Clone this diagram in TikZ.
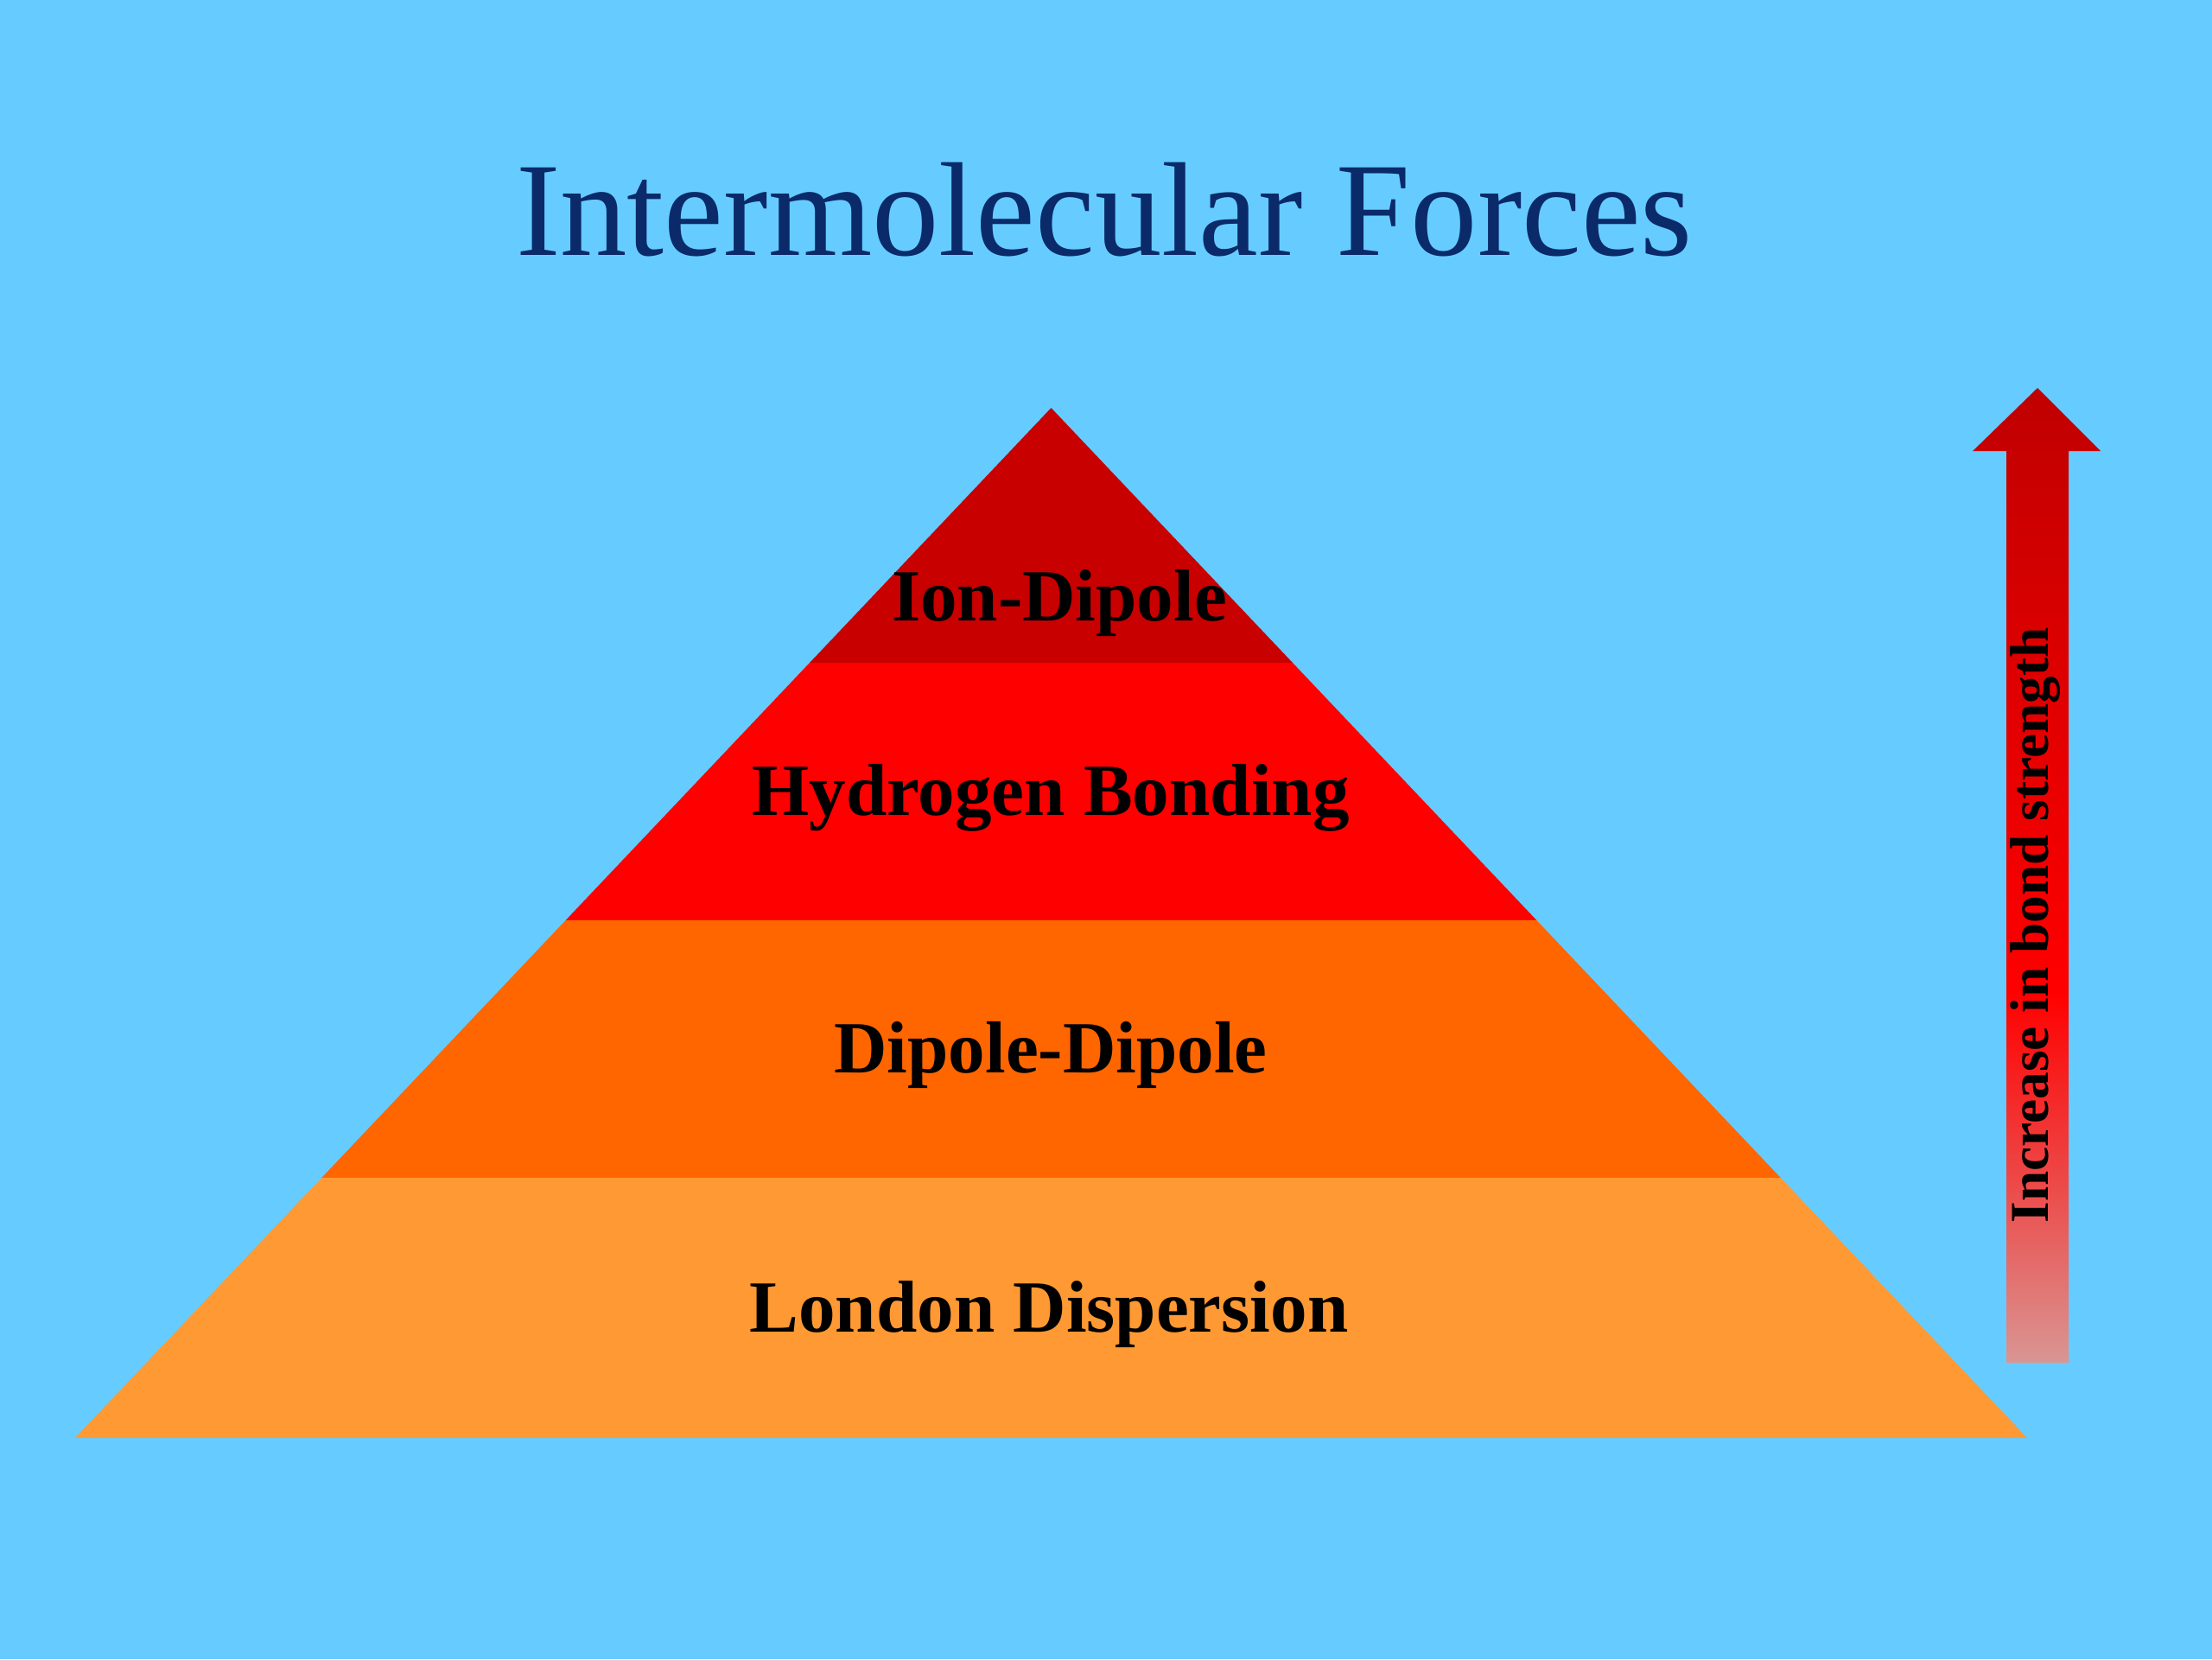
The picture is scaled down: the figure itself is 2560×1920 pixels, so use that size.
\documentclass[tikz,border=0pt]{standalone}
\usepackage{fontspec}
\setmainfont{Liberation Serif}
\definecolor{skybg}{HTML}{66CCFF}
\definecolor{titlenavy}{HTML}{0A2A6A}
\definecolor{bandone}{HTML}{C80000}
\definecolor{bandtwo}{HTML}{FF0000}
\definecolor{bandthree}{HTML}{FF6600}
\definecolor{bandfour}{HTML}{FF9933}
\definecolor{arrtop}{HTML}{C00000}
\definecolor{arrmid}{HTML}{FF0000}
\definecolor{arrlow}{HTML}{D99694}
\pgfdeclareverticalshading{strengthshade}{100bp}{%
  color(0bp)=(arrlow); color(25bp)=(arrlow); color(34bp)=(arrmid!50!arrlow);
  color(44bp)=(arrmid); color(75bp)=(arrtop); color(100bp)=(arrtop)}
\tikzset{
  bandlabel/.style={anchor=base, inner sep=0pt, font=\fontsize{24.2}{28}\selectfont\bfseries, text=black},
  titlelabel/.style={anchor=base, inner sep=0pt, font=\fontsize{44}{52}\selectfont, text=titlenavy},
  arrowlabel/.style={anchor=base, inner sep=0pt, rotate=90, font=\fontsize{18}{22}\selectfont\bfseries, text=black}
}
\begin{document}
\begin{tikzpicture}[x=0.01cm, y=-0.01cm]
\useasboundingbox (0,0) rectangle (2560,1920);
\fill[skybg] (0,0) rectangle (2560,1920);
% pyramid
\begin{scope}
  \clip (1216.5,472) -- (2346,1664) -- (87,1664) -- cycle;
  \fill[bandone] (0,460) rectangle (2560,767);
  \fill[bandtwo] (0,767) rectangle (2560,1065);
  \fill[bandthree] (0,1065) rectangle (2560,1363);
  \fill[bandfour] (0,1363) rectangle (2560,1670);
\end{scope}
% title
\node[titlelabel] (title) at (1278,295) {Intermolecular Forces};
% band labels
\node[bandlabel] (ion) at (1226,718) {Ion-Dipole};
\node[bandlabel] (hyd) at (1216,943) {Hydrogen Bonding};
\node[bandlabel] (dip) at (1216,1241) {Dipole-Dipole};
\node[bandlabel] (lon) at (1214,1541) {London Dispersion};
% arrow
\shade[shading=strengthshade] (2322,1577) -- (2322,522) -- (2283,522) -- (2358,449)
  -- (2431,522) -- (2394,522) -- (2394,1577) -- cycle;
\node[arrowlabel] (incr) at (2370,1071) {Increase in bond strength};
\end{tikzpicture}
\end{document}
